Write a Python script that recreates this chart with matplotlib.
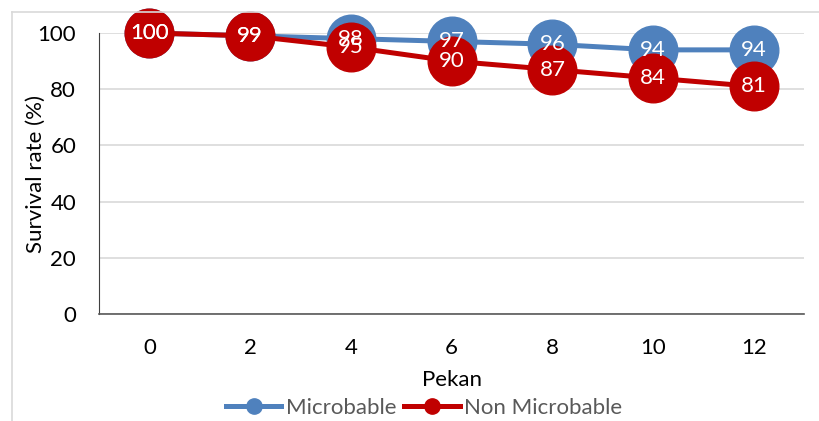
import matplotlib.pyplot as plt
from matplotlib.lines import Line2D

plt.rcParams['font.family'] = ['Lato', 'DejaVu Sans']

weeks = ['0', '2', '4', '6', '8', '10', '12']
microbable = [100, 99, 98, 97, 96, 94, 94]
non_microbable = [100, 99, 95, 90, 87, 84, 81]

blue = '#4f81bd'
red = '#c00000'

fig = plt.figure(figsize=(8.19, 4.21), dpi=100)
ax = fig.add_axes([0.121, 0.254, 0.861, 0.6676])

x = list(range(len(weeks)))
for vals, col in [(microbable, blue), (non_microbable, red)]:
    ax.plot(x, vals, color=col, lw=3.6, marker='o', ms=35, mec=col, mfc=col,
            clip_on=False, zorder=3)
    for xi, v in zip(x, vals):
        ax.text(xi, v, str(v), color='white', fontsize=16, ha='center', va='center',
                zorder=4)

ax.set_xlim(-0.5, 6.5)
ax.set_ylim(0, 100)
ax.set_xticks(x)
ax.set_xticklabels(weeks)
ax.set_yticks(range(0, 101, 20))
ax.tick_params(axis='both', length=0, labelsize=16)
ax.tick_params(axis='x', pad=17)
ax.tick_params(axis='y', pad=16.5)
ax.grid(axis='y', color='#d9d9d9', lw=1.2)
ax.set_axisbelow(True)
for s in ['top', 'right']:
    ax.spines[s].set_visible(False)
ax.spines['left'].set_color('#404040')
ax.spines['bottom'].set_color('#595959')
ax.spines['bottom'].set_linewidth(1.2)

ax.set_xlabel('Pekan', fontsize=16, labelpad=9)
ax.set_ylabel('Survival rate (%)', fontsize=16, labelpad=-6)

handles = [Line2D([], [], color=blue, lw=3.6, marker='o', ms=11),
           Line2D([], [], color=red, lw=3.6, marker='o', ms=11)]
leg = fig.legend(handles, ['Microbable', 'Non Microbable'], loc='center',
                 bbox_to_anchor=(0.518, 0.031), ncol=2, frameon=False, fontsize=16,
                 handlelength=2.5, handletextpad=0.2, columnspacing=0.36,
                 borderpad=0)
for t in leg.get_texts():
    t.set_color('#595959')

# outer chart border (cropped at right and bottom)
fig.add_artist(Line2D([0.0146, 0.0146], [0, 0.9715], color='#d9d9d9', lw=1.2))
fig.add_artist(Line2D([0.0146, 1.0], [0.9715, 0.9715], color='#d9d9d9', lw=1.2))

fig.savefig('out.png', dpi=100)
